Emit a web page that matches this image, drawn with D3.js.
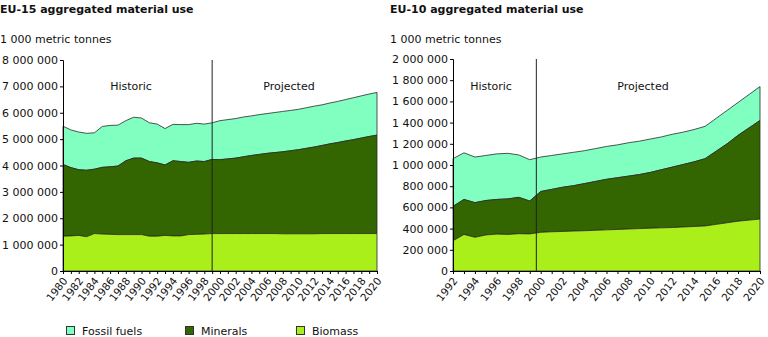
<!DOCTYPE html>
<html><head><meta charset="utf-8">
<script src="https://cdn.jsdelivr.net/npm/d3@7"></script>
<style>
body{margin:0;background:#fff;}
svg{font-family:"DejaVu Sans",Verdana,sans-serif;}
</style></head><body>
<svg id="c" width="768" height="337"></svg>
<script>
// EU-15 (values in million of 1000 tonnes, cumulative readings converted below)
const yearsEU15 = d3.range(1980, 2021);
const biomassEU15 = [1.32,1.33,1.35,1.30,1.42,1.40,1.39,1.38,1.38,1.38,1.38,1.32,1.32,1.35,1.33,1.33,1.38,1.39,1.40,1.42,1.42,1.42,1.42,1.42,1.42,1.42,1.42,1.42,1.41,1.41,1.41,1.41,1.41,1.42,1.42,1.42,1.42,1.42,1.42,1.42,1.42];
const mineralsTopEU15 = [4.04,3.92,3.84,3.82,3.86,3.93,3.95,3.98,4.18,4.28,4.28,4.15,4.10,4.02,4.18,4.15,4.12,4.17,4.15,4.23,4.22,4.25,4.28,4.33,4.38,4.42,4.46,4.49,4.52,4.56,4.60,4.65,4.70,4.76,4.82,4.87,4.93,4.98,5.04,5.10,5.15];
const totalEU15 = [5.49,5.35,5.27,5.22,5.24,5.48,5.52,5.53,5.70,5.83,5.80,5.62,5.57,5.40,5.56,5.55,5.55,5.60,5.57,5.62,5.70,5.74,5.78,5.84,5.88,5.93,5.97,6.01,6.05,6.09,6.13,6.19,6.25,6.30,6.37,6.43,6.50,6.57,6.64,6.71,6.77];
const yTicksEU15 = [0,1000000,2000000,3000000,4000000,5000000,6000000,7000000,8000000];

// EU-10
const yearsEU10 = d3.range(1992, 2021);
const biomassEU10 = [0.285,0.345,0.318,0.340,0.348,0.345,0.352,0.350,0.365,0.370,0.373,0.377,0.380,0.384,0.388,0.392,0.396,0.400,0.404,0.407,0.410,0.415,0.420,0.425,0.440,0.455,0.470,0.480,0.490];
const mineralsTopEU10 = [0.610,0.675,0.645,0.665,0.675,0.680,0.695,0.660,0.750,0.770,0.790,0.805,0.825,0.845,0.865,0.880,0.895,0.910,0.930,0.955,0.980,1.005,1.030,1.060,1.130,1.200,1.280,1.350,1.420];
const totalEU10 = [1.060,1.115,1.075,1.090,1.105,1.110,1.095,1.050,1.075,1.090,1.105,1.120,1.135,1.155,1.175,1.190,1.210,1.225,1.245,1.265,1.290,1.310,1.335,1.365,1.440,1.515,1.590,1.665,1.740];
const yTicksEU10 = [0,200000,400000,600000,800000,1000000,1200000,1400000,1600000,1800000,2000000];

const seriesNames = ["Fossil fuels","Minerals","Biomass"];
const colors = {"Fossil fuels":"#80ffc0","Minerals":"#336600","Biomass":"#aaee1a"};

const svg = d3.select("#c");
const fmt = v => d3.format(",")(v).replace(/,/g, " ");

function chart(o){
  const g = svg.append("g");
  const x = d3.scaleLinear().domain([o.years[0], o.years[o.years.length-1]]).range([o.x0, o.x1]);
  const y = d3.scaleLinear().domain([0, o.ymax]).range([o.yb, o.yt]);
  const rows = o.years.map((yr,i)=>({yr, b:o.bio[i]*1e6, m:o.min[i]*1e6, t:o.tot[i]*1e6}));
  const layers = [
    {name:"Fossil fuels", lo:d=>d.m, hi:d=>d.t},
    {name:"Minerals", lo:d=>d.b, hi:d=>d.m},
    {name:"Biomass", lo:d=>0, hi:d=>d.b}
  ];
  layers.forEach(L=>{
    g.append("path").datum(rows)
      .attr("fill", colors[L.name])
      .attr("stroke","#2a2a2a").attr("stroke-width",0.8)
      .attr("d", d3.area().x(d=>x(d.yr)).y0(d=>y(L.lo(d))).y1(d=>y(L.hi(d))));
  });
  // divider
  g.append("line").attr("x1",x(o.divider)).attr("x2",x(o.divider))
    .attr("y1",o.yt).attr("y2",o.yb).attr("stroke","#222").attr("stroke-width",1);
  // y axis
  const ya = g.append("g").attr("transform",`translate(${o.x0},0)`)
    .call(d3.axisLeft(y).tickValues(o.yticks).tickFormat(fmt).tickSize(3).tickPadding(2));
  ya.select(".domain").attr("stroke","#000");
  ya.selectAll("text").attr("font-size",11).attr("fill","#111").attr("font-family","DejaVu Sans");
  // x axis
  const xa = g.append("g").attr("transform",`translate(0,${o.yb})`)
    .call(d3.axisBottom(x).tickValues(o.years).tickFormat(d=>(d-o.years[0])%2===0?String(d):"").tickSize(3).tickSizeOuter(0));
  xa.select(".domain").attr("stroke","#000");
  xa.selectAll("text").attr("font-size",10.5).attr("fill","#111").attr("font-family","DejaVu Sans")
    .attr("text-anchor","end").attr("dx",0).attr("dy","0.35em")
    .attr("transform","rotate(-52)").attr("x",-5).attr("y",6);
  // titles
  g.append("text").attr("x",o.tx).attr("y",13).attr("font-weight","bold").attr("font-size",11).attr("fill","#111").text(o.title);
  g.append("text").attr("x",o.tx).attr("y",43).attr("font-size",11).attr("fill","#111").text("1 000 metric tonnes");
  g.append("text").attr("x",o.histX).attr("y",90).attr("text-anchor","middle").attr("font-size",11).attr("fill","#111").text("Historic");
  g.append("text").attr("x",o.projX).attr("y",90).attr("text-anchor","middle").attr("font-size",11).attr("fill","#111").text("Projected");
}

chart({years:yearsEU15,bio:biomassEU15,min:mineralsTopEU15,tot:totalEU15,ymax:8000000,yticks:yTicksEU15,
  x0:63,x1:377,yt:60,yb:271,divider:1999,title:"EU-15 aggregated material use",tx:0,histX:131,projX:289});
chart({years:yearsEU10,bio:biomassEU10,min:mineralsTopEU10,tot:totalEU10,ymax:2000000,yticks:yTicksEU10,
  x0:453,x1:760,yt:59,yb:271,divider:1999.6,title:"EU-10 aggregated material use",tx:390,histX:491,projX:643});

// legend
const legX = [66,185,296];
const leg = svg.append("g");
seriesNames.forEach((n,i)=>{
  leg.append("rect").attr("x",legX[i]+0.5).attr("y",326.5).attr("width",8).attr("height",8)
    .attr("fill",colors[n]).attr("stroke","#333").attr("stroke-width",1);
  leg.append("text").attr("x",legX[i]+16).attr("y",335).attr("font-size",11).attr("fill","#111").text(n);
});
</script>
</body></html>
